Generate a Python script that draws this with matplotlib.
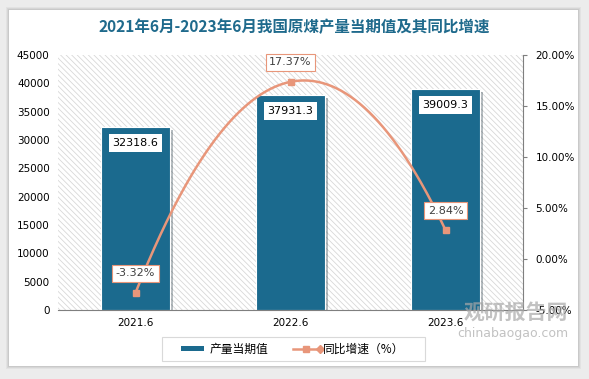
import matplotlib.pyplot as plt
import numpy as np
from matplotlib.patches import Rectangle
import matplotlib.patheffects as pe

plt.rcParams['font.family'] = ['Noto Sans CJK SC', 'DejaVu Sans']
plt.rcParams['hatch.linewidth'] = 0.6

categories = ['2021.6', '2022.6', '2023.6']
output = [32318.6, 37931.3, 39009.3]
growth = [-3.32, 17.37, 2.84]
left_ticks = [0, 5000, 10000, 15000, 20000, 25000, 30000, 35000, 40000, 45000]
right_ticks = [-5, 0, 5, 10, 15, 20]

bar_color = '#1b6a8e'
line_color = '#e8967a'

fig = plt.figure(figsize=(5.89, 3.79), dpi=100)
fig.patch.set_facecolor('#ececec')

# white card with soft shadow
for i, a in enumerate([0.04, 0.05, 0.06]):
    d = 3 - i
    fig.patches.append(Rectangle((9 / 589 - d / 589, 13 / 379 - d / 379),
                                 569 / 589 + 2 * d / 589, 356 / 379 + 2 * d / 379,
                                 transform=fig.transFigure, facecolor='black',
                                 alpha=a, edgecolor='none', zorder=-5))
fig.patches.append(Rectangle((9 / 589, 13 / 379), 569 / 589, 356 / 379,
                             transform=fig.transFigure, facecolor='white',
                             edgecolor='none', zorder=-4))

ax = fig.add_axes([58 / 589, 69 / 379, 465 / 589, 255 / 379])
ax.set_facecolor('white')
ax.add_patch(Rectangle((0, 0), 1, 1, transform=ax.transAxes, facecolor='white',
                       edgecolor='#d8d8d8', lw=0, hatch='\\\\\\\\\\\\', zorder=0))

x = np.arange(len(categories))
bars = ax.bar(x, output, width=0.45, color=bar_color, zorder=2,
              edgecolor='white', linewidth=0.8,
              path_effects=[pe.SimplePatchShadow(offset=(2, -2), alpha=0.3), pe.Normal()])
ax.set_xlim(-0.5, 2.5)
ax.set_ylim(0, 45000)
ax.set_yticks(left_ticks)
ax.set_yticklabels([str(t) for t in left_ticks], fontsize=7.5, family='DejaVu Sans')
ax.set_xticks(x)
ax.set_xticklabels(categories, fontsize=7.5, family='DejaVu Sans')
ax.tick_params(axis='both', length=0, pad=6)
for s in ['top', 'right', 'left']:
    ax.spines[s].set_visible(False)
ax.spines['bottom'].set_color('#7f7f7f')

for xi, v in zip(x, output):
    ax.text(xi, v - 2800, f'{v:.1f}', ha='center', va='center', fontsize=8,
            family='DejaVu Sans', zorder=5,
            bbox=dict(boxstyle='square,pad=0.35', facecolor='white', edgecolor='none'))

ax2 = ax.twinx()
ax2.set_ylim(-5, 20)
ax2.set_yticks(right_ticks)
ax2.set_yticklabels([f'{t:.2f}%' for t in right_ticks], fontsize=7.5, family='DejaVu Sans')
ax2.tick_params(axis='y', length=3, color='#7f7f7f', pad=6)
for s in ['top', 'left', 'bottom']:
    ax2.spines[s].set_visible(False)
ax2.spines['right'].set_color('#7f7f7f')

# smooth curve through the three points
coef = np.polyfit(x, growth, 2)
xs = np.linspace(0, 2, 200)
ax2.plot(xs, np.polyval(coef, xs), color=line_color, lw=1.8, zorder=3)
ax2.plot(x, growth, 's', color=line_color, ms=5, zorder=4)
for xi, g in zip(x, growth):
    ax2.text(xi, g + 1.9, f'{g:.2f}%', ha='center', va='center', fontsize=8,
             family='DejaVu Sans', color='#404040', zorder=5,
             bbox=dict(boxstyle='square,pad=0.3', facecolor='white', edgecolor=line_color, lw=0.8))

fig.text(0.5, 352 / 379, '2021年6月-2023年6月我国原煤产量当期值及其同比增速', ha='center', va='center',
         fontsize=11.2, fontweight='bold', color='#1f6a8c')

# legend
fig.patches.append(Rectangle((162 / 589, 18 / 379), 263 / 589, 24 / 379,
                             transform=fig.transFigure, facecolor='white',
                             edgecolor='#d9d9d9', lw=0.8, zorder=1))
fig.patches.append(Rectangle((181 / 589, 28 / 379), 23 / 589, 5 / 379,
                             transform=fig.transFigure, facecolor=bar_color,
                             edgecolor='none', zorder=2))
fig.text(210 / 589, 30 / 379, '产量当期值', fontsize=8.5, va='center', ha='left')
fig.lines.append(plt.Line2D([293 / 589, 320 / 589], [30.5 / 379, 30.5 / 379],
                            transform=fig.transFigure, color=line_color, lw=1.8))
fig.lines.append(plt.Line2D([306 / 589], [30.5 / 379], transform=fig.transFigure,
                            color=line_color, marker='s', ms=5))
fig.lines.append(plt.Line2D([320 / 589], [30.5 / 379], transform=fig.transFigure,
                            color=line_color, marker='D', ms=4))
fig.text(323 / 589, 30 / 379, '同比增速（%）', fontsize=8.5, va='center', ha='left')

# watermark
fig.text(516 / 589, 67 / 379, '观研报告网', fontsize=15, fontweight='bold', color='#a8a8a8',
         alpha=0.7, ha='center', va='center', zorder=10)
fig.text(513 / 589, 46 / 379, 'chinabaogao.com', fontsize=9, color='#a8a8a8',
         alpha=0.7, ha='center', va='center', family='DejaVu Sans', zorder=10)

fig.savefig('out.png', dpi=100)
